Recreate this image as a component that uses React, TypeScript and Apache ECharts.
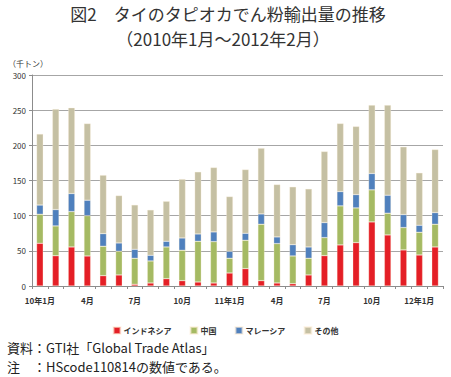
import React, { useEffect, useRef } from "react";
import * as echarts from "echarts";

const categories = [
  "10年1月", "2月", "3月", "4月", "5月", "6月", "7月", "8月", "9月", "10月", "11月", "12月",
  "11年1月", "2月", "3月", "4月", "5月", "6月", "7月", "8月", "9月", "10月", "11月", "12月",
  "12年1月", "2月",
];
const seriesNames = ["インドネシア", "中国", "マレーシア", "その他"];
const indonesia = [60.7, 43, 55.5, 42.7, 14.7, 15.7, 2.4, 4.3, 10.4, 7.6, 5.7, 4.3, 18.5, 24.7, 7.6, 4.3, 3.3, 15.7, 43.2, 58.4, 61.7, 91.1, 72.6, 51.3, 44.1, 55.5];
const china = [41.3, 42.4, 50.3, 57.3, 41.8, 33.7, 37, 31.3, 45.1, 43.2, 57.9, 58.8, 20.9, 40.3, 80.2, 56, 39.4, 23.7, 25.6, 55.5, 49.3, 45.6, 30.9, 31.8, 32.3, 32.3];
const malaysia = [13, 23.3, 25.7, 22, 18, 11.8, 12.8, 8.1, 8.1, 17.5, 10.4, 13.8, 10, 10, 14.7, 9.5, 16.1, 16.1, 21.4, 20.4, 19, 23.3, 25.6, 18.5, 10, 16.6];
const others = [101, 142.8, 121.9, 109, 83.1, 67.4, 63.1, 64.5, 56.9, 83.6, 88.3, 91.6, 77.8, 90.6, 93.5, 74.5, 82.2, 82.6, 101.1, 96.8, 96.9, 97.2, 128.1, 96.3, 74.5, 89.7];
const colors = ["#E41F26", "#A5BA63", "#4F80BD", "#C5C0A3"];

const FONT = "'Noto Sans CJK JP', 'Noto Sans', sans-serif";

export default function App() {
  const ref = useRef<HTMLDivElement>(null);
  useEffect(() => {
    if (!ref.current) return;
    const chart = echarts.init(ref.current, null, { renderer: "svg" });
    const data = [indonesia, china, malaysia, others];
    chart.setOption({
      animation: false,
      backgroundColor: "#ffffff",
      textStyle: { fontFamily: FONT },
      legend: {
        data: seriesNames,
        left: "center",
        top: 321,
        itemWidth: 7,
        itemHeight: 7,
        itemGap: 18,
        icon: "rect",
        textStyle: { fontFamily: FONT, fontSize: 8, fontWeight: "bold", color: "#333333", padding: [0, 0, 0, -2] },
      },
      grid: { left: 32, right: 8, top: 75, bottom: 91, containLabel: false },
      xAxis: {
        type: "category",
        data: categories,
        axisLine: { lineStyle: { color: "#8c8c8c", width: 1 } },
        axisTick: { show: true, interval: 0, length: 3, lineStyle: { color: "#8c8c8c" } },
        axisLabel: { interval: 2, fontSize: 8, fontWeight: "bold", color: "#333333", margin: 10, fontFamily: FONT },
      },
      yAxis: {
        type: "value",
        min: 0,
        max: 300,
        interval: 50,
        axisLine: { show: true, lineStyle: { color: "#8c8c8c" } },
        axisTick: { show: true, length: 3, lineStyle: { color: "#8c8c8c" } },
        axisLabel: { fontSize: 8, color: "#333333", margin: 6, fontFamily: FONT },
        splitLine: { lineStyle: { color: "#a6a6a6", width: 1 } },
      },
      series: seriesNames.map((name, i) => ({
        name,
        type: "bar",
        stack: "total",
        barWidth: "42%",
        data: data[i],
        itemStyle: { color: colors[i], borderColor: "rgba(255,240,220,0.6)", borderWidth: 0.5 },
      })),
      graphic: [
        { type: "text", x: 228, y: 13, style: { text: "図2　タイのタピオカでん粉輸出量の推移", fontSize: 17, fill: "#333333", fontFamily: FONT, align: "center", verticalAlign: "middle" } },
        { type: "text", x: 223, y: 38, style: { text: "（2010年1月～2012年2月）", fontSize: 17, fill: "#333333", fontFamily: FONT, align: "center", verticalAlign: "middle" } },
        { type: "text", left: 8, top: 59, style: { text: "（千トン）", fontSize: 8, fill: "#333333", fontFamily: FONT } },
        { type: "text", left: 7, top: 341, style: { text: "資料：GTI社「Global Trade Atlas」", fontSize: 13, fill: "#222222", fontFamily: FONT } },
        { type: "text", left: 7, top: 360, style: { text: "注　：HScode110814の数値である。", fontSize: 13, fill: "#222222", fontFamily: FONT } },
      ],
    });
    return () => chart.dispose();
  }, []);
  return <div ref={ref} style={{ position: "fixed", left: 0, top: 0, width: 451, height: 377 }} />;
}
